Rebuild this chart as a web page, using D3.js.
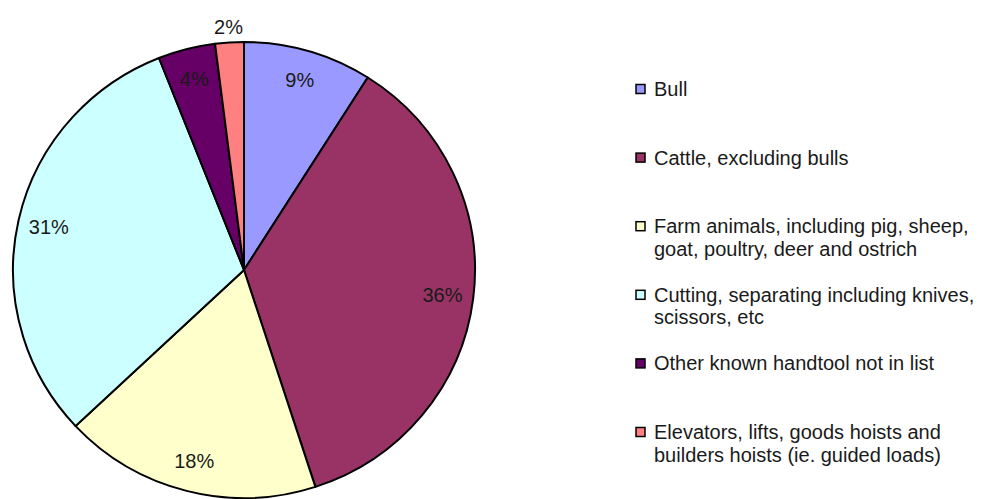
<!DOCTYPE html>
<html>
<head>
<meta charset="utf-8">
<script src="https://cdn.jsdelivr.net/npm/d3@7/dist/d3.min.js"></script>
<style>
  html, body { margin: 0; padding: 0; background: #fff; }
  svg { display: block; font-family: "Liberation Sans", Arial, sans-serif; }
</style>
</head>
<body>
<svg id="chart" width="989" height="499"></svg>
<script>
// Injury sources, share of cases (%)
const categories = [
  "Bull",
  "Cattle, excluding bulls",
  "Farm animals, including pig, sheep, goat, poultry, deer and ostrich",
  "Cutting, separating including knives, scissors, etc",
  "Other known handtool not in list",
  "Elevators, lifts, goods hoists and builders hoists (ie. guided loads)"
];
const values = [9, 36, 18, 31, 4, 2];
const colors = ["#9999FF", "#993366", "#FFFFCC", "#CCFFFF", "#660066", "#FF8080"];

const svg = d3.select("#chart");
const cx = 244, cy = 270, r = 231, ry = 228;
const fontSize = 20;

const pie = d3.pie().sort(null).value(d => d.value);
const arcs = pie(categories.map((c, i) => ({ name: c, value: values[i], color: colors[i] })));
const arc = d3.arc().innerRadius(0).outerRadius(r);

const g = svg.append("g")
  .attr("transform", `translate(${cx},${cy}) scale(1,${ry / r})`);

g.selectAll("path.slice")
  .data(arcs)
  .join("path")
  .attr("class", "slice")
  .attr("d", arc)
  .attr("fill", d => d.data.color)
  .attr("stroke", "#000")
  .attr("stroke-width", 2)
  .attr("stroke-linejoin", "round");

// Percentage labels: inside for larger slices, outside for the smallest one
const labelIn = d3.arc().innerRadius(200).outerRadius(200);
const labelOut = d3.arc().innerRadius(247).outerRadius(247);
svg.append("g")
  .attr("transform", `translate(${cx},${cy})`)
  .selectAll("text")
  .data(arcs)
  .join("text")
  .attr("transform", d => {
    const p = (d.data.value < 3 ? labelOut : labelIn).centroid(d);
    return `translate(${p[0]},${p[1] * ry / r})`;
  })
  .attr("text-anchor", "middle")
  .attr("dominant-baseline", "central")
  .attr("font-size", fontSize)
  .attr("fill", "#1a1a1a")
  .text(d => d.data.value + "%");

// Legend
const legend = svg.append("g");
const lx = 636, ly0 = 89, lstep = 68.6, maxW = 330, lineH = 22.5;

arcs.forEach((d, i) => {
  const y = ly0 + i * lstep;
  legend.append("rect")
    .attr("x", lx).attr("y", y - 4.5)
    .attr("width", 9).attr("height", 9)
    .attr("fill", d.data.color)
    .attr("stroke", "#000")
    .attr("stroke-width", 1.5);

  const t = legend.append("text")
    .attr("x", lx + 18).attr("y", y)
    .attr("dominant-baseline", "central")
    .attr("font-size", fontSize)
    .attr("fill", "#1a1a1a");

  // word-wrap the category name into lines no wider than maxW
  const words = d.data.name.split(" ");
  let line = [];
  let tspan = t.append("tspan").attr("x", lx + 18).attr("dy", 0);
  words.forEach(w => {
    line.push(w);
    tspan.text(line.join(" "));
    if (tspan.node().getComputedTextLength() > maxW && line.length > 1) {
      line.pop();
      tspan.text(line.join(" "));
      line = [w];
      tspan = t.append("tspan").attr("x", lx + 18).attr("dy", lineH).text(w);
    }
  });
});
</script>
</body>
</html>
